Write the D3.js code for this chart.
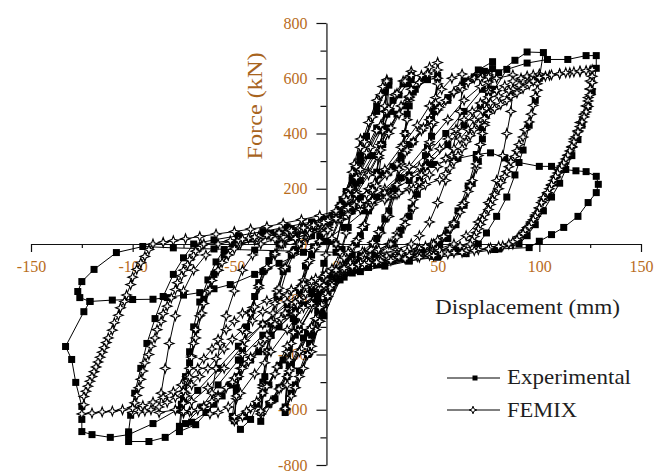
<!DOCTYPE html>
<html>
<head>
<meta charset="utf-8">
<script src="https://cdn.jsdelivr.net/npm/d3@7"></script>
<style>
  body { margin: 0; background: #fff; }
  svg text { font-family: "Liberation Serif", "Times New Roman", serif; }
</style>
</head>
<body>
<div id="chart"></div>
<script>
// experimental cycles [displacement mm, force kN]
const expC1 = [[0,0],[4,120],[8,230],[12,320],[9,180],[6,60],[3,-20],[-2,-120],[-6,-220],[-12,-330],[-9,-190],[-6,-70],[-3,10]];
const expC2 = [[2,100],[8,240],[14,380],[20,500],[26,590],[23,420],[20,260],[16,120],[12,30],[8,-40],[2,-130],[-6,-260],[-14,-400],[-20,-510],[-25,-610],[-23,-440],[-20,-280],[-16,-140],[-12,-40],[-8,30]];
const expC2b = [[-3,80],[3,160],[9,270],[15,390],[20,480],[24,550],[26,575],[25,470],[23,360],[21,250],[18,150],[14,60],[10,0],[5,-60],[-1,-140],[-7,-250],[-13,-360],[-18,-460],[-22,-540],[-25,-590],[-24,-480],[-23,-380],[-21,-270],[-18,-170],[-15,-80],[-11,-10],[-6,50]];
const expC3 = [[-2,90],[5,190],[12,300],[20,420],[28,520],[33,580],[37,610],[35,470],[32,320],[28,190],[24,90],[20,20],[14,-40],[6,-100],[-4,-190],[-14,-320],[-22,-440],[-30,-560],[-37,-642],[-35,-480],[-32,-330],[-28,-190],[-24,-90],[-20,-20]];
const expC3b = [[-12,30],[-4,80],[4,150],[10,230],[16,320],[22,410],[27,480],[31,540],[35,580],[37,595],[36,500],[34,400],[32,300],[29,200],[26,120],[22,50],[18,0],[12,-45],[5,-95],[-2,-160],[-9,-240],[-16,-340],[-22,-430],[-28,-520],[-33,-580],[-37,-610],[-36,-500],[-34,-390],[-32,-290],[-29,-190],[-26,-100],[-22,-40],[-18,0]];
const expC4 = [[-14,30],[-6,70],[2,130],[12,230],[22,360],[30,470],[38,550],[44,600],[50,610],[48,480],[45,350],[41,230],[37,130],[32,50],[28,0],[20,-40],[10,-80],[0,-130],[-10,-210],[-20,-330],[-28,-440],[-36,-540],[-42,-635],[-47,-671],[-51,-624],[-49,-520],[-46,-380],[-42,-250],[-38,-140],[-33,-60],[-28,0]];
const expC4b = [[-22,25],[-14,55],[-6,90],[2,140],[10,220],[18,320],[26,420],[33,500],[39,560],[45,595],[50,600],[49,500],[47,390],[44,280],[40,180],[36,100],[31,35],[27,0],[19,-38],[9,-78],[0,-125],[-9,-200],[-18,-310],[-26,-420],[-33,-510],[-39,-580],[-45,-625],[-50,-640],[-49,-540],[-47,-420],[-44,-300],[-40,-190],[-36,-100],[-31,-35],[-27,0]];
const expC5 = [[-20,30],[-10,60],[0,100],[12,170],[24,260],[36,360],[46,450],[55,530],[63,590],[70,630],[77,660],[75,540],[72,420],[69,310],[65,210],[60,120],[55,50],[50,0],[40,-35],[28,-60],[16,-85],[4,-120],[-8,-170],[-20,-240],[-32,-330],[-42,-420],[-52,-510],[-60,-580],[-69,-654],[-77,-679],[-75,-560],[-72,-430],[-69,-310],[-65,-200],[-60,-110],[-55,-40],[-50,0]];
const expC5b = [[-42,18],[-32,38],[-22,55],[-12,75],[-2,100],[8,140],[18,200],[28,280],[38,370],[47,450],[55,520],[62,570],[68,605],[73,625],[77,635],[76,560],[74,470],[72,380],[70,300],[67,220],[63,140],[59,70],[55,20],[51,0],[42,-30],[32,-52],[20,-75],[8,-105],[-4,-150],[-16,-220],[-28,-300],[-38,-390],[-48,-480],[-56,-550],[-64,-610],[-71,-645],[-77,-660],[-76,-580],[-74,-480],[-72,-390],[-70,-300],[-67,-210],[-63,-130],[-59,-65],[-55,-20],[-51,0]];
const expC6 = [[-40,20],[-28,40],[-16,60],[-4,85],[8,120],[20,170],[32,240],[44,320],[54,400],[63,480],[72,560],[80,620],[88,665],[94,695],[102,693],[100,600],[98,520],[95,430],[92,340],[88,250],[84,170],[79,100],[74,40],[70,0],[60,-25],[48,-45],[36,-62],[24,-80],[12,-100],[0,-130],[-12,-180],[-24,-250],[-36,-330],[-48,-420],[-58,-510],[-66,-590],[-74,-650],[-84,-700],[-92,-715],[-102,-715],[-102,-680],[-101,-620],[-99,-540],[-96,-450],[-93,-360],[-89,-270],[-85,-190],[-80,-110],[-75,-50],[-70,0]];
const expC7 = [[-60,15],[-48,30],[-36,45],[-24,62],[-12,80],[0,105],[12,140],[24,180],[36,230],[46,290],[55,360],[63,430],[71,500],[78,560],[84,632],[94,655],[104,668],[114,668],[123,682],[128,682],[128,636],[126,552],[124,498],[121,430],[119,378],[116,320],[113,270],[110,220],[106,170],[102,120],[98,70],[94,30],[90,0],[78,-20],[64,-35],[50,-48],[36,-60],[22,-75],[10,-95],[0,-120],[-12,-160],[-24,-220],[-36,-290],[-48,-370],[-58,-450],[-68,-530],[-78,-600],[-90,-650],[-102,-690],[-111,-700],[-120,-690],[-125,-679],[-125,-635],[-125,-588],[-128,-501],[-130,-418],[-133,-371],[-124,-245],[-121,-208]];
const expC8 = [[-110,-203],[-100,-201],[-90,-200],[-83,-194],[-75,-185],[-67,-176],[-60,-162],[-52,-147],[-40,-110],[-28,-70],[-16,-30],[-6,10],[4,60],[14,120],[24,190],[36,250],[48,288],[60,310],[69,324],[76,330],[83,312],[90,295],[100,281],[106,281],[112,270],[118,265],[123,262],[128,245],[129,216],[128,186],[124,150],[119,100],[112,60],[106,34],[100,10],[95,-13],[80,-18],[60,-24],[40,-28],[20,-30],[0,-30],[-20,-26],[-40,-22],[-60,-18],[-80,-14],[-95,-9],[-108,-31],[-119,-92],[-125,-136],[-127,-172],[-126,-194],[-121,-208]];

// FEMIX cycles
const femC1 = [[0,0],[3,90],[6,190],[9,290],[12,380],[10,260],[8,140],[5,40],[2,-30],[-2,-90],[-5,-180],[-8,-280],[-12,-390],[-10,-270],[-8,-150],[-5,-40],[-2,20]];
const femC2 = [[2,90],[6,180],[10,280],[14,370],[18,460],[22,540],[25,595],[24,480],[22,360],[20,250],[17,150],[14,70],[11,20],[8,-10],[4,-50],[0,-110],[-4,-190],[-8,-280],[-12,-370],[-16,-450],[-20,-520],[-25,-600],[-24,-480],[-22,-360],[-20,-250],[-17,-150],[-14,-70],[-11,-20],[-8,10]];
const femC2b = [[-4,60],[0,110],[4,170],[8,260],[12,350],[16,440],[20,520],[23,570],[25,590],[24,500],[23,410],[21,310],[19,220],[16,130],[13,60],[10,10],[6,-30],[2,-80],[-2,-140],[-6,-220],[-10,-310],[-14,-400],[-18,-480],[-22,-550],[-25,-595],[-24,-510],[-23,-420],[-21,-320],[-19,-220],[-16,-130],[-13,-60],[-10,-10],[-6,40]];
const femC3 = [[-4,50],[0,100],[5,160],[10,240],[15,330],[20,410],[25,480],[29,540],[33,590],[37,625],[36,520],[34,400],[32,290],[29,180],[26,100],[22,40],[19,0],[14,-30],[8,-60],[3,-100],[-2,-150],[-7,-220],[-12,-300],[-17,-380],[-22,-450],[-27,-520],[-32,-575],[-37,-615],[-36,-510],[-34,-390],[-32,-280],[-29,-170],[-26,-90],[-22,-30],[-19,0]];
const femC3b = [[-14,20],[-8,55],[-3,95],[2,140],[7,200],[12,270],[17,350],[22,430],[26,490],[30,545],[34,590],[37,610],[36,530],[35,450],[33,360],[31,270],[28,180],[25,105],[21,45],[18,5],[13,-28],[7,-62],[2,-105],[-3,-160],[-8,-230],[-13,-310],[-18,-390],[-23,-460],[-28,-525],[-32,-570],[-37,-605],[-36,-520],[-35,-430],[-33,-340],[-31,-250],[-28,-160],[-25,-85],[-21,-28],[-18,0]];
const femC4 = [[-14,25],[-8,50],[-2,85],[4,130],[10,190],[16,260],[22,340],[27,420],[32,500],[37,560],[42,610],[46,640],[50,657],[50,600],[49,530],[47,430],[45,340],[42,250],[38,160],[34,90],[30,40],[26,0],[20,-25],[13,-45],[6,-75],[0,-110],[-6,-160],[-12,-230],[-18,-310],[-24,-390],[-30,-470],[-36,-540],[-42,-595],[-46,-625],[-50,-640],[-49,-560],[-47,-450],[-45,-350],[-42,-250],[-38,-160],[-34,-90],[-30,-40],[-26,0]];
const femC4b = [[-20,20],[-14,38],[-8,60],[-2,90],[4,125],[10,180],[16,250],[21,320],[26,400],[31,470],[36,535],[41,585],[45,615],[50,630],[50,580],[49,510],[48,440],[46,360],[44,280],[41,200],[38,130],[34,70],[30,25],[27,0],[21,-20],[14,-40],[7,-68],[0,-105],[-6,-150],[-12,-215],[-18,-290],[-24,-370],[-29,-445],[-34,-515],[-39,-570],[-44,-605],[-50,-625],[-49,-550],[-48,-480],[-46,-400],[-44,-320],[-41,-230],[-38,-150],[-34,-85],[-30,-35],[-27,0]];
const femC5 = [[-20,20],[-13,40],[-6,65],[0,95],[8,140],[16,200],[24,270],[32,350],[40,430],[46,500],[52,560],[57,600],[62,615],[62,560],[61,480],[59,400],[57,320],[54,230],[50,150],[46,80],[41,30],[37,0],[30,-20],[22,-38],[14,-58],[6,-85],[0,-110],[-8,-160],[-16,-230],[-24,-310],[-32,-390],[-40,-470],[-47,-540],[-53,-590],[-58,-610],[-62,-615],[-61,-540],[-59,-450],[-57,-360],[-54,-260],[-50,-170],[-46,-95],[-41,-40],[-37,0]];
const femC6 = [[-30,18],[-26,26],[-22,35],[-18,45],[-14,55],[-10,67],[-6,80],[-3,90],[0,100],[5,125],[10,150],[15,180],[20,210],[25,250],[30,290],[34,330],[38,370],[42,410],[46,450],[50,485],[54,520],[58,548],[61,570],[65,588],[68,600],[72,607],[75,612],
  [75,586],[75,560],[74,520],[74,480],[73,440],[72,400],[71,360],[70,320],[69,275],[67,230],[65,190],[63,150],[61,115],[58,80],[56,55],[53,30],[50,14],[47,0],
  [44,-9],[40,-18],[35,-27],[30,-35],[25,-44],[20,-52],[15,-63],[10,-75],[5,-90],[0,-105],[-5,-127],[-10,-150],[-15,-180],[-20,-210],[-25,-250],[-30,-290],[-34,-330],[-38,-370],[-42,-410],[-46,-450],[-50,-485],[-54,-520],[-58,-548],[-61,-570],[-65,-588],[-68,-600],[-72,-607],[-75,-612],
  [-75,-576],[-74,-540],[-73,-495],[-72,-450],[-71,-405],[-70,-360],[-69,-310],[-67,-260],[-65,-215],[-63,-170],[-61,-132],[-58,-95],[-56,-67],[-53,-40],[-50,-18],[-47,0]];
const femC6b = [[-40,14],[-32,28],[-24,44],[-16,62],[-8,82],[0,102],[9,140],[18,195],[27,265],[35,340],[43,420],[51,495],[58,550],[65,585],[71,600],[75,605],[75,550],[74,490],[73,430],[71,360],[69,290],[66,210],[62,140],[58,75],[53,28],[48,0],[41,-16],[32,-32],[22,-48],[12,-68],[2,-95],[-8,-140],[-18,-200],[-27,-270],[-35,-345],[-43,-425],[-51,-500],[-58,-555],[-65,-590],[-71,-603],[-75,-606],[-74,-550],[-73,-480],[-71,-410],[-69,-340],[-66,-250],[-62,-165],[-58,-95],[-53,-40],[-48,0]];
const femC7 = [[-38,15],[-28,32],[-18,50],[-8,72],[0,95],[12,140],[24,200],[36,280],[46,370],[55,450],[63,520],[71,570],[79,600],[87,612],[87,560],[86,480],[84,400],[82,320],[79,230],[75,150],[70,80],[64,30],[58,0],[50,-18],[40,-33],[30,-48],[20,-62],[10,-80],[0,-105],[-12,-150],[-24,-210],[-36,-290],[-46,-370],[-55,-450],[-63,-520],[-71,-570],[-79,-600],[-87,-610],[-86,-540],[-84,-450],[-82,-360],[-79,-260],[-75,-170],[-70,-95],[-64,-40],[-58,0]];
const femC8 = [[-48,14],[-43,21],[-38,28],[-33,35],[-28,42],[-23,50],[-18,58],[-13,67],[-8,76],[-4,85],[0,95],[6,115],[12,135],[18,160],[24,185],[30,215],[36,245],[41,278],[46,310],[51,345],[55,380],[59,415],[63,450],[67,480],[71,510],[75,533],[79,555],[83,573],[87,590],[91,600],[94,608],[97,612],[100,615],
  [100,598],[99,580],[99,557],[98,534],[97,502],[96,470],[95,442],[93,414],[92,387],[90,360],[89,338],[88,317],[86,298],[85,280],[84,262],[83,245],[81,222],[80,200],[78,180],[77,161],[76,143],[75,125],[73,106],[72,88],[71,71],[70,55],[69,41],[68,27],[67,13],[66,0],
  [61,-8],[56,-16],[51,-23],[46,-30],[41,-36],[36,-42],[31,-48],[26,-55],[21,-61],[16,-68],[11,-76],[6,-85],[3,-92],[0,-100],[-6,-117],[-12,-135],[-18,-160],[-24,-185],[-30,-215],[-36,-245],[-41,-278],[-46,-310],[-51,-345],[-55,-380],[-59,-415],[-63,-450],[-67,-480],[-71,-510],[-75,-533],[-79,-555],[-83,-573],[-87,-590],[-91,-600],[-94,-605],[-97,-608],[-100,-610],
  [-100,-592],[-99,-575],[-98,-548],[-97,-520],[-96,-490],[-95,-460],[-94,-430],[-92,-400],[-91,-370],[-89,-340],[-88,-310],[-86,-280],[-85,-252],[-83,-225],[-81,-195],[-79,-165],[-78,-140],[-76,-115],[-75,-95],[-73,-75],[-72,-57],[-70,-40],[-69,-26],[-67,-12],[-66,-5],[-65,0]];
const femC9 = [[-52,12],[-46,18],[-40,25],[-34,32],[-28,40],[-22,48],[-16,58],[-11,68],[-6,78],[0,92],[6,108],[12,125],[18,142],[24,160],[30,180],[36,200],[41,224],[46,250],[50,280],[54,310],[58,345],[61,380],[65,415],[68,450],[72,482],[76,510],[80,535],[85,555],[90,575],[95,590],[100,602],[105,610],[110,616],[115,620],[120,624],[125,628],
  [125,590],[125,560],[124,530],[123,500],[122,470],[120,440],[119,410],[117,380],[116,350],[114,320],[112,290],[110,265],[108,240],[106,212],[104,185],[102,158],[100,130],[98,105],[96,80],[94,60],[92,40],[90,25],[89,12],[87,0],
  [82,-7],[76,-14],[70,-20],[64,-26],[58,-31],[52,-36],[46,-41],[40,-46],[34,-51],[28,-56],[22,-62],[16,-68],[11,-75],[6,-82],[0,-95],[-5,-110],[-10,-125],[-16,-145],[-22,-165],[-28,-185],[-34,-205],[-40,-228],[-46,-250],[-50,-280],[-54,-310],[-58,-345],[-61,-380],[-65,-415],[-68,-450],[-72,-482],[-76,-510],[-80,-535],[-85,-555],[-90,-572],[-95,-585],[-100,-594],[-105,-600],[-110,-605],[-115,-608],[-120,-612],[-125,-615],
  [-124,-582],[-124,-552],[-123,-533],[-122,-515],[-121,-497],[-120,-480],[-119,-462],[-118,-445],[-117,-427],[-116,-410],[-115,-392],[-114,-375],[-113,-357],[-112,-340],[-110,-312],[-109,-285],[-107,-258],[-106,-231],[-104,-208],[-103,-185],[-101,-147],[-100,-120],[-98,-92],[-96,-68],[-94,-45],[-92,-20],[-90,0]];
const femC10 = [[-85,6],[-80,12],[-74,19],[-67,27],[-59,36],[-50,45],[-42,54],[-34,63],[-26,75],[-17,88],[-8,103],[0,120],[6,132],[12,145],[18,157],[25,170],[31,185],[38,200],[44,215],[51,233],[54,255],[56,275],[58,298],[60,320],[62,345],[64,370],[66,392],[68,414],[70,435],[73,455],[75,473],[78,490],[81,505],[84,520],[86,534],[89,547],[92,563],[95,578],[97,590],[100,602],[103,607],[106,612],[110,616],[113,620],[117,623],[120,626],[123,628],[126,631],
  [126,607],[126,584],[125,562],[125,540],[124,518],[124,498],[123,478],[122,460],[121,442],[120,425],[119,406],[118,388],[117,370],[116,353],[115,337],[114,322],[113,308],[112,294],[111,282],[110,270],[109,257],[108,245],[107,230],[106,215],[105,200],[104,186],[102,168],[101,150],[100,131],[99,113],[98,100],[97,88],[96,75],[95,63],[93,50],[92,38],[90,27],[89,16],[87,8],[85,0],
  [80,-9],[75,-18],[68,-24],[62,-30],[55,-36],[48,-42],[41,-48],[34,-54],[27,-60],[20,-66],[14,-74],[8,-82],[4,-88],[0,-95]];

const xTicks = [-150, -100, -50, 0, 50, 100, 150];
const xMinor = [-125, -75, -25, 25, 75, 125];
const yTicks = [-800, -600, -400, -200, 0, 200, 400, 600, 800];
const yMinor = [-700, -500, -300, -100, 100, 300, 500, 700];
const yAxisAt = -4.7; // y axis crosses slightly left of zero

const experimental = [].concat(expC1, expC2, expC2b, expC3, expC3b, expC4, expC4b, expC5, expC5b, expC6, expC7, expC8);
const femix = [].concat(femC1, femC2, femC2b, femC3, femC3b, femC4, femC4b, femC5, femC6, femC6b, femC7, femC8, femC9, femC10);

const width = 662, height = 473;
const labelColor = "#b86c1c";

const svg = d3.select("#chart").append("svg")
    .attr("width", width)
    .attr("height", height);

const x = d3.scaleLinear().domain([-150, 150]).range([31, 641]);
const y = d3.scaleLinear().domain([-800, 800]).range([465, 23]);

// x axis
const xAxis = svg.append("g")
    .attr("transform", `translate(0,${y(0)})`)
    .call(d3.axisBottom(x).tickValues(xTicks).tickSize(8).tickSizeOuter(0).tickPadding(9).tickFormat(d => String(d)));
svg.append("g")
    .attr("transform", `translate(0,${y(0)})`)
    .call(d3.axisBottom(x).tickValues(xMinor).tickSize(4).tickFormat(""))
    .call(g => g.select(".domain").remove());

// y axis
const yAxis = svg.append("g")
    .attr("transform", `translate(${x(yAxisAt)},0)`)
    .call(d3.axisLeft(y).tickValues(yTicks).tickSize(10).tickSizeOuter(0).tickPadding(9).tickFormat(d => String(d)));
svg.append("g")
    .attr("transform", `translate(${x(yAxisAt)},0)`)
    .call(d3.axisLeft(y).tickValues(yMinor).tickSize(6).tickFormat(""))
    .call(g => g.select(".domain").remove());

svg.selectAll(".tick line, .domain").attr("stroke", "#111").attr("stroke-width", 1.2);
[xAxis, yAxis].forEach(g => g.selectAll("text")
    .attr("font-family", "Liberation Serif")
    .attr("font-size", 16)
    .attr("fill", labelColor));

// axis titles
svg.append("text")
    .attr("x", 435)
    .attr("y", 314)
    .attr("font-size", 22)
    .attr("fill", "#1e1e1e")
    .attr("textLength", 185)
    .attr("lengthAdjust", "spacingAndGlyphs")
    .text("Displacement (mm)");

svg.append("text")
    .attr("transform", "translate(262,106) rotate(-90)")
    .attr("text-anchor", "middle")
    .attr("font-size", 22)
    .attr("fill", "#a8641e")
    .attr("textLength", 107)
    .attr("lengthAdjust", "spacingAndGlyphs")
    .text("Force (kN)");

const line = d3.line().x(d => x(d[0])).y(d => y(d[1]));
const star = "M0,-4.8L1.3,-1.3L4.8,0L1.3,1.3L0,4.8L-1.3,1.3L-4.8,0L-1.3,-1.3Z";

// experimental
svg.append("path")
    .datum(experimental)
    .attr("d", line)
    .attr("fill", "none")
    .attr("stroke", "#000")
    .attr("stroke-width", 1);
svg.append("g")
    .selectAll("rect")
    .data(experimental)
    .join("rect")
    .attr("x", d => x(d[0]) - 3.5)
    .attr("y", d => y(d[1]) - 3.5)
    .attr("width", 7)
    .attr("height", 7)
    .attr("fill", "#000");

// FEMIX
svg.append("path")
    .datum(femix)
    .attr("d", line)
    .attr("fill", "none")
    .attr("stroke", "#000")
    .attr("stroke-width", 1);
svg.append("g")
    .selectAll("path")
    .data(femix)
    .join("path")
    .attr("transform", d => `translate(${x(d[0])},${y(d[1])})`)
    .attr("d", star)
    .attr("fill", "#fff")
    .attr("stroke", "#000")
    .attr("stroke-width", 1.1);

// legend
const legend = svg.append("g");
legend.append("line").attr("x1", 447).attr("x2", 500).attr("y1", 378).attr("y2", 378)
    .attr("stroke", "#000").attr("stroke-width", 1);
legend.append("rect").attr("x", 472.5).attr("y", 375.5).attr("width", 5).attr("height", 5).attr("fill", "#000");
legend.append("text").attr("x", 507).attr("y", 384).attr("font-size", 21).attr("fill", "#1e1e1e")
    .attr("textLength", 124).attr("lengthAdjust", "spacingAndGlyphs").text("Experimental");
legend.append("line").attr("x1", 447).attr("x2", 500).attr("y1", 410).attr("y2", 410)
    .attr("stroke", "#000").attr("stroke-width", 1);
legend.append("path").attr("transform", "translate(473,410) scale(0.8)").attr("d", star)
    .attr("fill", "#fff").attr("stroke", "#000").attr("stroke-width", 1.2);
legend.append("text").attr("x", 507).attr("y", 417).attr("font-size", 21).attr("fill", "#1e1e1e")
    .attr("textLength", 70).attr("lengthAdjust", "spacingAndGlyphs").text("FEMIX");
</script>
</body>
</html>
